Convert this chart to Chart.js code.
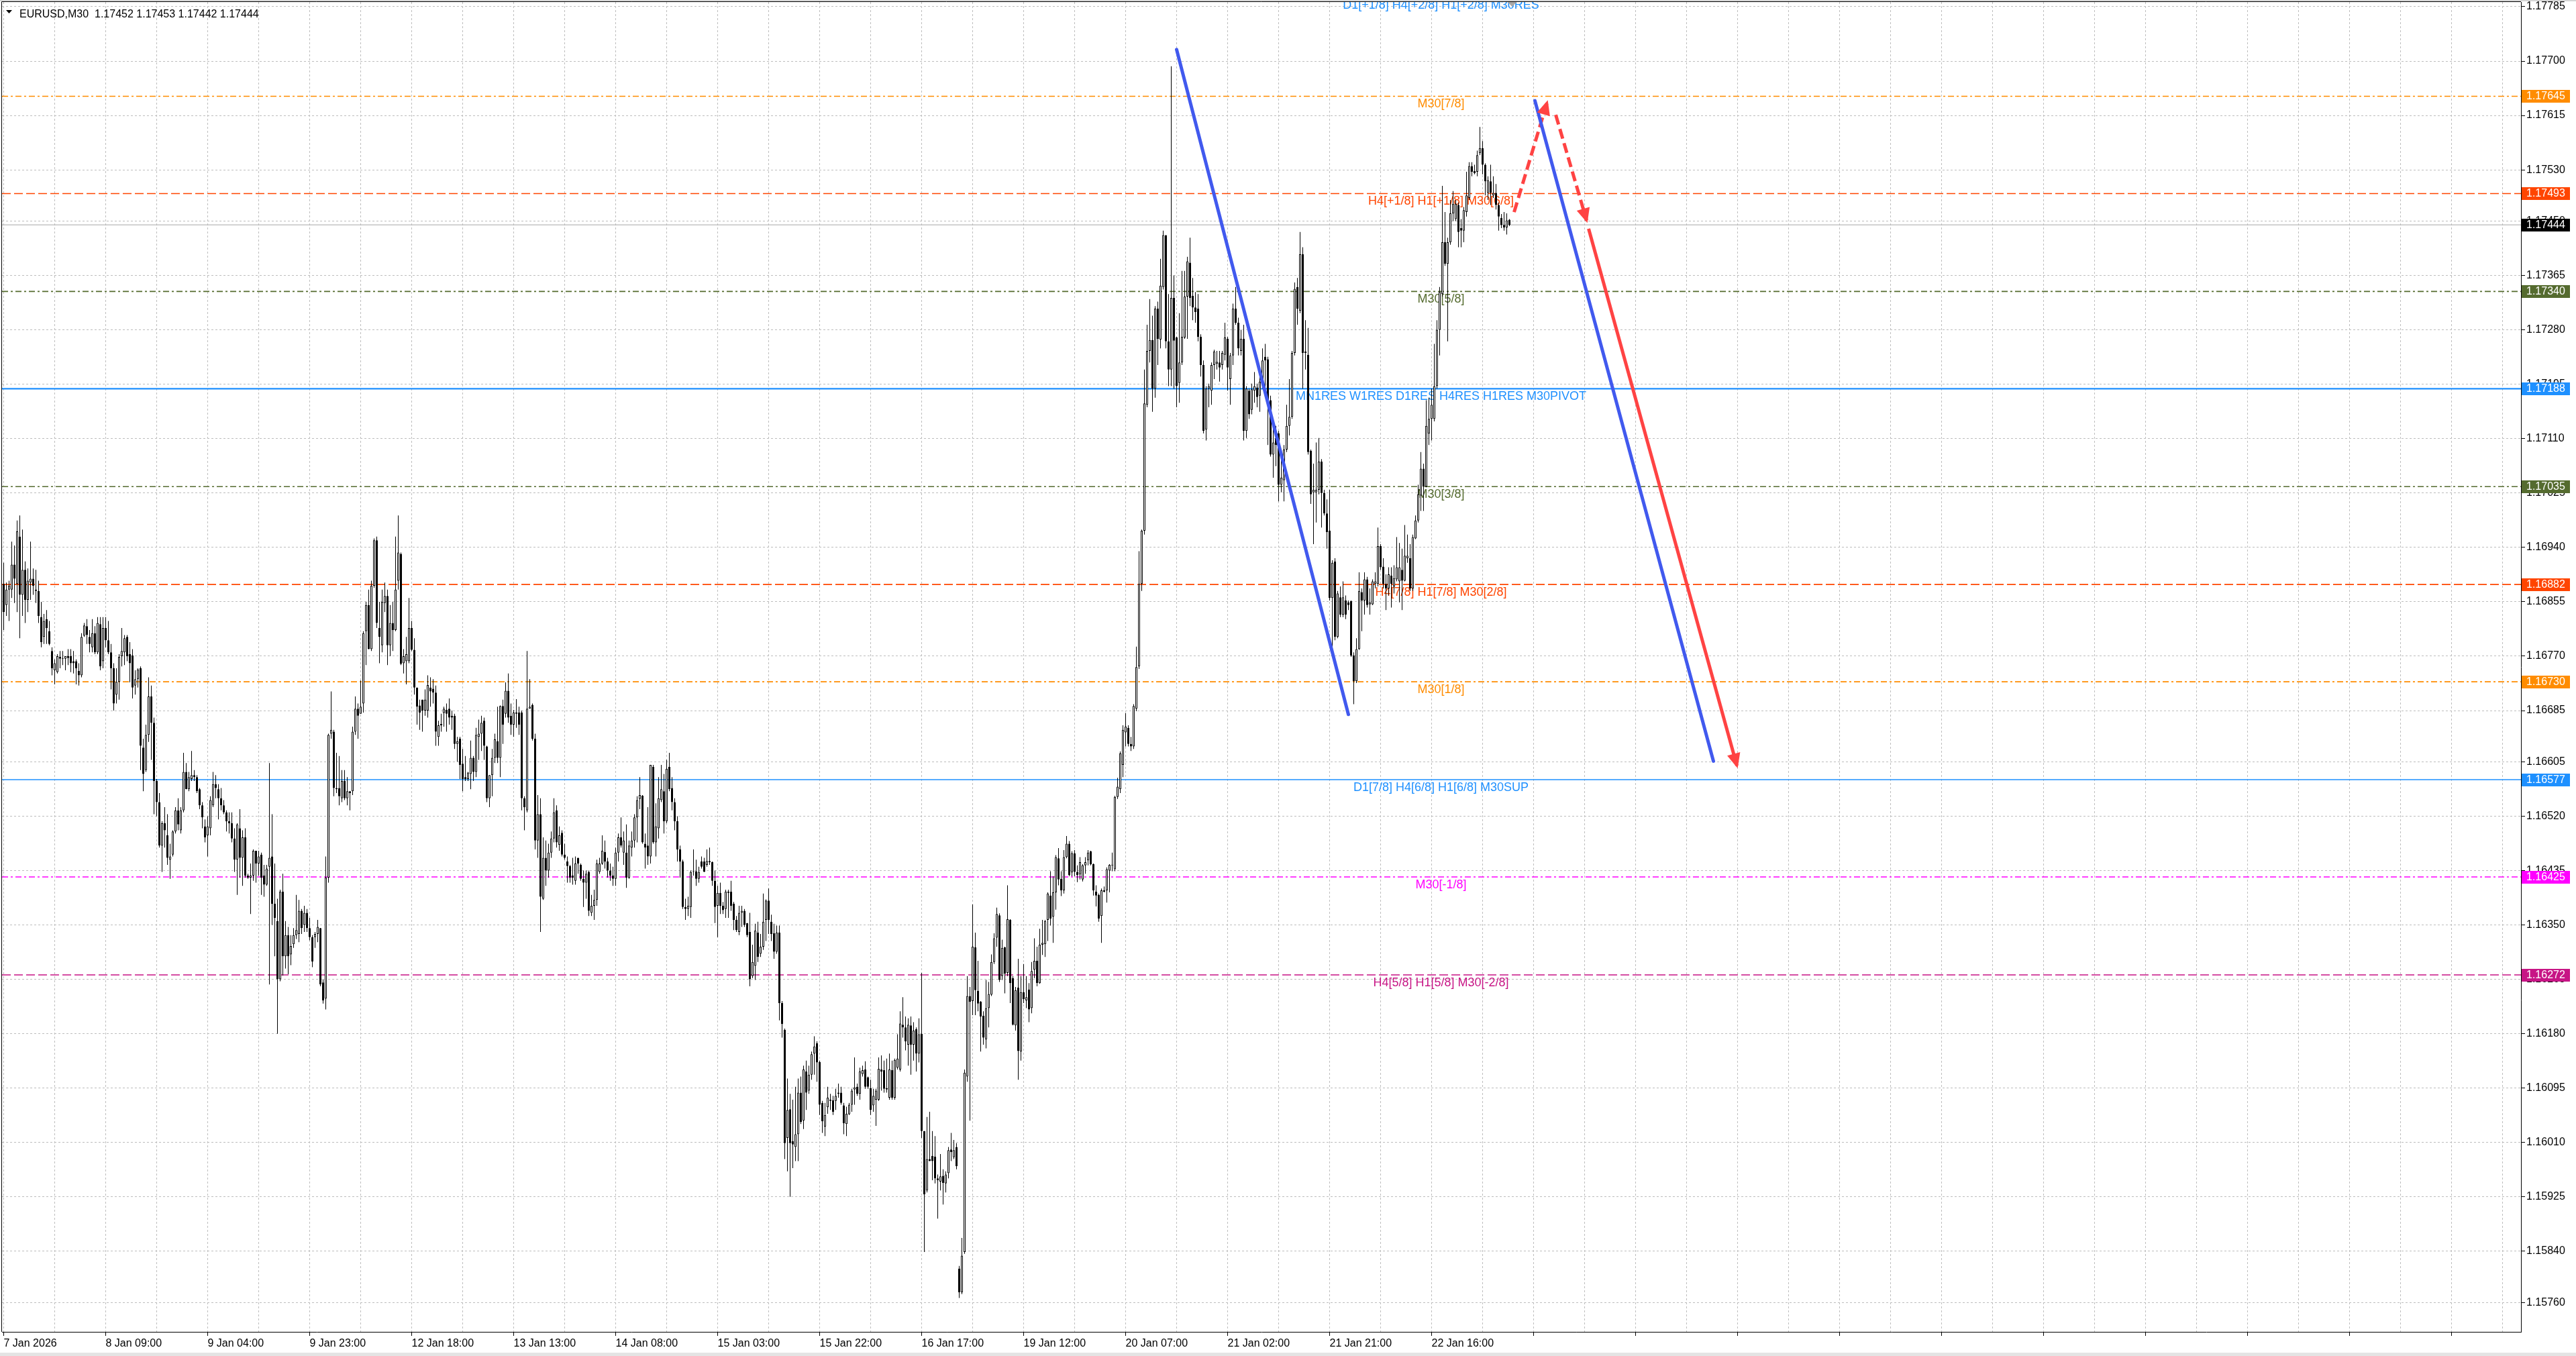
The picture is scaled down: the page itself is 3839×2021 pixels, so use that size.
<!DOCTYPE html>
<html>
<head>
<meta charset="utf-8">
<title>EURUSD,M30</title>
<script src="https://cdn.jsdelivr.net/npm/chart.js@4.4.1/dist/chart.umd.min.js"></script>
<style>
  html, body { margin: 0; padding: 0; background: #ffffff; overflow: hidden; }
  canvas { display: block; }
</style>
</head>
<body>
<canvas id="priceChart" width="3839" height="2021"></canvas>
<script>
// EURUSD M30 bars, oldest first
const opens = [
1.16883,1.16850,1.16874,1.16874,1.16913,1.16883,1.16957,1.16866,1.16905,1.16858,
1.16885,1.16891,1.16874,1.16872,1.16831,1.16800,1.16828,1.16809,1.16778,1.16748,
1.16745,1.16769,1.16766,1.16766,1.16770,1.16770,1.16762,1.16762,1.16747,1.16740,
1.16802,1.16817,1.16800,1.16784,1.16806,1.16776,1.16820,1.16762,1.16814,1.16795,
1.16776,1.16751,1.16710,1.16730,1.16770,1.16776,1.16800,1.16773,1.16771,1.16724,
1.16734,1.16751,1.16627,1.16592,1.16647,1.16707,1.16666,1.16575,1.16542,1.16474,
1.16509,1.16490,1.16452,1.16460,1.16496,1.16529,1.16498,1.16529,1.16589,1.16562,
1.16578,1.16584,1.16581,1.16562,1.16537,1.16504,1.16490,1.16501,1.16537,1.16570,
1.16562,1.16548,1.16537,1.16526,1.16512,1.16509,1.16485,1.16452,1.16501,1.16455,
1.16487,1.16427,1.16424,1.16427,1.16466,1.16446,1.16460,1.16427,1.16413,1.16441,
1.16457,1.16383,1.16356,1.16265,1.16402,1.16301,1.16334,1.16304,1.16320,1.16334,
1.16336,1.16372,1.16350,1.16369,1.16345,1.16331,1.16331,1.16336,1.16345,1.16260,
1.16235,1.16424,1.16649,1.16652,1.16564,1.16564,1.16548,1.16575,1.16548,1.16559,
1.16559,1.16652,1.16688,1.16680,1.16696,1.16809,1.16850,1.16781,1.16880,
1.16951,1.16814,1.16787,1.16853,1.16864,1.16787,1.16822,1.16811,1.16888,1.16930,
1.16759,1.16762,1.16762,1.16814,1.16780,1.16721,1.16693,1.16702,1.16685,1.16685,
1.16721,1.16719,1.16713,1.16644,1.16662,1.16681,1.16686,1.16688,1.16677,1.16677,
1.16633,1.16641,1.16602,1.16581,1.16578,1.16586,1.16611,1.16589,1.16644,1.16649,
1.16669,1.16629,1.16548,1.16584,1.16611,1.16637,1.16611,1.16692,1.16680,1.16716,
1.16677,1.16663,1.16680,1.16682,1.16682,1.16548,1.16529,1.16688,1.16694,1.16641,
1.16482,1.16523,1.16391,1.16455,1.16435,1.16463,1.16485,1.16529,1.16475,1.16494,
1.16460,1.16449,1.16442,1.16427,1.16419,1.16455,1.16444,1.16422,1.16416,1.16433,
1.16369,1.16380,1.16389,1.16433,1.16446,1.16464,1.16449,1.16435,1.16427,1.16422,
1.16463,1.16487,1.16463,1.16463,1.16424,1.16471,1.16482,1.16518,1.16547,1.16552,
1.16477,1.16474,1.16457,1.16597,1.16479,1.16501,1.16545,1.16559,1.16512,1.16597,
1.16564,1.16542,1.16512,1.16468,1.16449,1.16378,1.16375,1.16378,1.16433,1.16434,
1.16422,1.16449,1.16449,1.16444,1.16450,1.16448,1.16419,1.16380,1.16400,1.16380,
1.16375,1.16400,1.16402,1.16383,1.16358,1.16339,1.16369,1.16372,1.16353,1.16339,
1.16270,1.16286,1.16338,1.16305,1.16316,1.16358,1.16388,1.16355,1.16337,1.16308,
1.16338,1.16228,1.16186,1.16017,1.16062,1.16012,1.16003,1.16023,1.16088,1.16044,
1.16121,1.16091,1.16116,1.16149,1.16165,1.16136,1.16072,1.16035,1.16065,1.16077,
1.16076,1.16075,1.16086,1.16088,1.16068,1.16039,1.16054,1.16069,1.16093,1.16097,
1.16086,1.16117,1.16124,1.16112,1.16095,1.16068,1.16077,1.16077,1.16124,1.16123,
1.16093,1.16080,1.16123,1.16080,1.16127,1.16124,1.16194,1.16190,1.16163,1.16193,
1.16163,1.16187,1.16149,1.16180,1.16028,1.15935,1.15984,1.15989,1.15988,1.15954,
1.15949,1.15958,1.15946,1.15962,1.15999,1.15987,1.16003,1.15813,1.15776,1.15839,
1.16113,1.16239,1.16231,1.16315,1.16247,1.16230,1.16208,1.16171,1.16220,1.16241,
1.16292,1.16330,1.16365,1.16270,1.16315,1.16275,1.16358,1.16267,1.16193,1.16252,
1.16152,1.16245,1.16232,1.16249,1.16220,1.16280,1.16294,1.16259,1.16319,1.16320,
1.16358,1.16396,1.16363,1.16401,1.16454,1.16422,1.16404,1.16456,1.16477,1.16432,
1.16462,1.16433,1.16429,1.16421,1.16443,1.16451,1.16465,1.16445,1.16402,1.16397,
1.16364,1.16402,1.16404,1.16435,1.16443,1.16437,1.16550,1.16562,1.16600,1.16651,
1.16658,1.16633,1.16629,1.16688,1.16754,1.16883,1.16966,1.17163,1.17247,1.17264,
1.17188,1.17313,1.17265,1.17347,1.17428,1.17262,1.17218,1.17330,1.17268,1.17197,
1.17229,1.17268,1.17332,1.17385,1.17333,1.17315,1.17313,1.17269,1.17225,1.17124,
1.17188,1.17185,1.17225,1.17227,1.17229,1.17225,1.17241,1.17266,1.17203,1.17240,
1.17313,1.17291,1.17247,1.17266,1.17122,1.17185,1.17155,1.17185,1.17190,1.17177,
1.17199,1.17238,1.17234,1.17170,1.17085,1.17111,1.17118,1.17038,1.17045,1.17093,
1.17130,1.17144,1.17244,1.17347,1.17310,1.17398,1.17244,1.17241,1.17091,1.17026,
1.17026,1.17030,1.17074,1.17025,1.16993,1.16966,1.16861,1.16918,1.16800,1.16862,
1.16835,1.16857,1.16854,1.16856,1.16771,1.16731,1.16781,1.16870,1.16857,1.16890,
1.16851,1.16851,1.16883,1.16883,1.16942,1.16910,1.16883,1.16876,1.16896,1.16879,
1.16890,1.16887,1.16905,1.16888,1.16923,1.16923,1.16876,1.16954,1.16982,1.17021,
1.17063,1.17035,1.17118,1.17141,1.17141,1.17192,1.17280,1.17336,1.17417,1.17383,
1.17417,1.17462,1.17453,1.17475,1.17439,1.17435,1.17464,1.17486,1.17536,1.17528,
1.17527,1.17556,1.17564,1.17538,1.17494,1.17512,1.17490,1.17494,1.17475,1.17455,
1.17444,1.17440,1.17452
];
const highs = [
1.16916,1.16885,1.16888,1.16949,1.16943,1.16982,1.16990,1.16968,1.16918,1.16907,
1.16949,1.16907,1.16905,1.16888,1.16855,1.16836,1.16842,1.16825,1.16784,1.16765,
1.16773,1.16778,1.16778,1.16770,1.16781,1.16781,1.16778,1.16765,1.16759,1.16806,
1.16822,1.16828,1.16811,1.16828,1.16817,1.16831,1.16831,1.16831,1.16831,1.16825,
1.16789,1.16759,1.16751,1.16773,1.16814,1.16803,1.16803,1.16792,1.16781,1.16748,
1.16751,1.16754,1.16641,1.16663,1.16737,1.16724,1.16674,1.16578,1.16556,1.16512,
1.16534,1.16523,1.16477,1.16498,1.16534,1.16548,1.16534,1.16619,1.16603,1.16589,
1.16622,1.16592,1.16584,1.16564,1.16542,1.16515,1.16520,1.16551,1.16589,1.16584,
1.16570,1.16564,1.16545,1.16529,1.16526,1.16526,1.16501,1.16509,1.16531,1.16498,
1.16501,1.16430,1.16446,1.16468,1.16466,1.16466,1.16463,1.16444,1.16444,1.16603,
1.16523,1.16446,1.16391,1.16405,1.16430,1.16356,1.16347,1.16334,1.16345,1.16397,
1.16389,1.16375,1.16380,1.16375,1.16361,1.16334,1.16339,1.16358,1.16345,1.16265,
1.16457,1.16649,1.16715,1.16655,1.16619,1.16614,1.16592,1.16592,1.16581,1.16559,
1.16660,1.16707,1.16696,1.16732,1.16809,1.16855,1.16874,1.16888,1.16954,
1.16957,1.16855,1.16874,1.16885,1.16874,1.16850,1.16855,1.16957,1.16990,1.16932,
1.16781,1.16800,1.16861,1.16825,1.16798,1.16721,1.16702,1.16702,1.16718,1.16740,
1.16737,1.16734,1.16724,1.16669,1.16680,1.16691,1.16696,1.16704,1.16685,1.16680,
1.16644,1.16644,1.16625,1.16614,1.16589,1.16638,1.16614,1.16658,1.16671,1.16677,
1.16674,1.16630,1.16584,1.16625,1.16649,1.16691,1.16693,1.16702,1.16729,1.16743,
1.16696,1.16686,1.16703,1.16691,1.16685,1.16551,1.16778,1.16734,1.16696,1.16649,
1.16553,1.16548,1.16487,1.16482,1.16477,1.16496,1.16548,1.16537,1.16504,1.16498,
1.16477,1.16457,1.16444,1.16455,1.16457,1.16455,1.16446,1.16435,1.16435,1.16435,
1.16397,1.16405,1.16452,1.16455,1.16490,1.16482,1.16455,1.16446,1.16441,1.16471,
1.16493,1.16518,1.16496,1.16507,1.16482,1.16496,1.16523,1.16551,1.16581,1.16553,
1.16493,1.16534,1.16600,1.16600,1.16540,1.16581,1.16600,1.16586,1.16608,1.16619,
1.16581,1.16548,1.16520,1.16474,1.16452,1.16391,1.16394,1.16435,1.16468,1.16452,
1.16441,1.16457,1.16455,1.16468,1.16471,1.16449,1.16435,1.16411,1.16416,1.16386,
1.16405,1.16405,1.16419,1.16386,1.16364,1.16380,1.16380,1.16375,1.16353,1.16369,
1.16319,1.16352,1.16355,1.16336,1.16399,1.16390,1.16407,1.16366,1.16352,1.16349,
1.16349,1.16231,1.16188,1.16110,1.16086,1.16077,1.16097,1.16110,1.16113,1.16130,
1.16138,1.16130,1.16152,1.16176,1.16168,1.16138,1.16075,1.16072,1.16097,1.16086,
1.16083,1.16094,1.16102,1.16097,1.16072,1.16066,1.16072,1.16094,1.16143,1.16102,
1.16127,1.16130,1.16137,1.16113,1.16108,1.16094,1.16094,1.16143,1.16146,1.16138,
1.16141,1.16149,1.16138,1.16141,1.16179,1.16215,1.16237,1.16207,1.16204,1.16207,
1.16198,1.16190,1.16204,1.16275,1.16028,1.16050,1.16058,1.16028,1.16020,1.15960,
1.15992,1.15968,1.15965,1.16003,1.16025,1.16014,1.16009,1.15817,1.15861,1.16124,
1.16270,1.16253,1.16382,1.16338,1.16294,1.16231,1.16215,1.16264,1.16261,1.16304,
1.16337,1.16377,1.16368,1.16327,1.16316,1.16412,1.16359,1.16270,1.16253,1.16297,
1.16270,1.16289,1.16270,1.16259,1.16292,1.16329,1.16316,1.16344,1.16358,1.16358,
1.16401,1.16434,1.16426,1.16459,1.16470,1.16434,1.16467,1.16489,1.16481,1.16465,
1.16467,1.16443,1.16456,1.16445,1.16456,1.16467,1.16466,1.16446,1.16412,1.16399,
1.16407,1.16410,1.16440,1.16445,1.16463,1.16552,1.16580,1.16621,1.16662,1.16681,
1.16662,1.16644,1.16695,1.16785,1.16934,1.16968,1.17218,1.17288,1.17328,1.17302,
1.17317,1.17324,1.17391,1.17435,1.17428,1.17336,1.17692,1.17365,1.17269,1.17306,
1.17372,1.17372,1.17394,1.17424,1.17361,1.17339,1.17336,1.17273,1.17232,1.17192,
1.17196,1.17229,1.17249,1.17247,1.17247,1.17247,1.17291,1.17269,1.17244,1.17321,
1.17347,1.17299,1.17280,1.17288,1.17192,1.17188,1.17196,1.17214,1.17196,1.17218,
1.17251,1.17258,1.17238,1.17177,1.17137,1.17130,1.17122,1.17085,1.17100,1.17163,
1.17203,1.17247,1.17354,1.17361,1.17433,1.17409,1.17295,1.17283,1.17093,1.17071,
1.17104,1.17111,1.17078,1.17030,1.17015,1.17030,1.16920,1.16923,1.16872,1.16879,
1.16887,1.16865,1.16857,1.16857,1.16776,1.16798,1.16901,1.16876,1.16901,1.16894,
1.16876,1.16890,1.16901,1.16971,1.16945,1.16923,1.16898,1.16909,1.16909,1.16912,
1.16956,1.16947,1.16938,1.16975,1.16960,1.16945,1.16960,1.16990,1.17038,1.17089,
1.17071,1.17170,1.17174,1.17188,1.17258,1.17295,1.17347,1.17505,1.17464,1.17424,
1.17483,1.17497,1.17483,1.17479,1.17453,1.17472,1.17527,1.17542,1.17542,1.17538,
1.17560,1.17597,1.17575,1.17540,1.17520,1.17538,1.17520,1.17508,1.17479,1.17461,
1.17464,1.17462,1.17453
];
const lows = [
1.16811,1.16833,1.16825,1.16861,1.16853,1.16839,1.16798,1.16833,1.16822,1.16839,
1.16858,1.16866,1.16853,1.16822,1.16784,1.16789,1.16789,1.16787,1.16740,1.16726,
1.16743,1.16751,1.16756,1.16748,1.16756,1.16745,1.16743,1.16726,1.16724,1.16737,
1.16800,1.16789,1.16776,1.16776,1.16773,1.16773,1.16748,1.16751,1.16784,1.16773,
1.16718,1.16685,1.16696,1.16702,1.16754,1.16756,1.16762,1.16729,1.16704,1.16710,
1.16721,1.16592,1.16559,1.16589,1.16636,1.16608,1.16523,1.16520,1.16471,1.16433,
1.16471,1.16444,1.16422,1.16457,1.16493,1.16498,1.16493,1.16526,1.16562,1.16559,
1.16575,1.16575,1.16556,1.16531,1.16501,1.16479,1.16457,1.16490,1.16534,1.16548,
1.16515,1.16529,1.16523,1.16496,1.16493,1.16479,1.16433,1.16397,1.16424,1.16411,
1.16424,1.16422,1.16367,1.16419,1.16416,1.16427,1.16397,1.16394,1.16411,1.16257,
1.16350,1.16301,1.16180,1.16262,1.16271,1.16282,1.16273,1.16287,1.16314,1.16328,
1.16323,1.16336,1.16339,1.16339,1.16326,1.16284,1.16314,1.16323,1.16254,1.16227,
1.16218,1.16416,1.16641,1.16551,1.16556,1.16537,1.16542,1.16545,1.16537,1.16529,
1.16553,1.16647,1.16641,1.16680,1.16682,1.16756,1.16781,1.16778,1.16877,
1.16814,1.16759,1.16776,1.16839,1.16756,1.16770,1.16778,1.16809,1.16874,1.16756,
1.16743,1.16726,1.16759,1.16778,1.16710,1.16663,1.16655,1.16652,1.16677,1.16674,
1.16691,1.16696,1.16630,1.16630,1.16652,1.16660,1.16652,1.16663,1.16655,1.16625,
1.16605,1.16578,1.16559,1.16575,1.16575,1.16562,1.16575,1.16581,1.16608,1.16622,
1.16608,1.16542,1.16534,1.16551,1.16603,1.16603,1.16581,1.16633,1.16674,1.16666,
1.16647,1.16644,1.16658,1.16647,1.16529,1.16498,1.16526,1.16688,1.16638,1.16468,
1.16455,1.16339,1.16389,1.16411,1.16424,1.16455,1.16479,1.16471,1.16466,1.16457,
1.16452,1.16416,1.16416,1.16413,1.16413,1.16430,1.16419,1.16378,1.16391,1.16364,
1.16364,1.16358,1.16380,1.16430,1.16444,1.16438,1.16424,1.16419,1.16411,1.16411,
1.16449,1.16471,1.16444,1.16408,1.16422,1.16457,1.16471,1.16479,1.16531,1.16477,
1.16438,1.16444,1.16446,1.16477,1.16457,1.16485,1.16542,1.16493,1.16509,1.16559,
1.16529,1.16498,1.16449,1.16424,1.16375,1.16358,1.16364,1.16361,1.16427,1.16411,
1.16416,1.16438,1.16433,1.16441,1.16444,1.16411,1.16353,1.16331,1.16367,1.16367,
1.16361,1.16361,1.16372,1.16342,1.16339,1.16334,1.16347,1.16347,1.16331,1.16254,
1.16267,1.16264,1.16292,1.16300,1.16311,1.16325,1.16336,1.16325,1.16297,1.16305,
1.16201,1.16174,1.15984,1.15965,1.15925,1.15970,1.15981,1.15981,1.16039,1.16031,
1.16061,1.16086,1.16108,1.16116,1.16105,1.16053,1.16025,1.16020,1.16055,1.16061,
1.16053,1.16061,1.16080,1.16069,1.16023,1.16020,1.16053,1.16058,1.16069,1.16083,
1.16077,1.16113,1.16094,1.16094,1.16053,1.16058,1.16036,1.16075,1.16091,1.16088,
1.16088,1.16077,1.16077,1.16077,1.16124,1.16121,1.16174,1.16154,1.16130,1.16116,
1.16138,1.16121,1.16135,1.16017,1.15839,1.15932,1.15981,1.15951,1.15946,1.15891,
1.15935,1.15913,1.15932,1.15954,1.15981,1.15984,1.15968,1.15767,1.15773,1.15836,
1.16105,1.16044,1.16209,1.16209,1.16215,1.16152,1.16163,1.16157,1.16190,1.16239,
1.16289,1.16316,1.16261,1.16264,1.16243,1.16270,1.16228,1.16193,1.16185,1.16108,
1.16138,1.16228,1.16220,1.16198,1.16212,1.16267,1.16254,1.16258,1.16303,1.16300,
1.16325,1.16349,1.16322,1.16374,1.16412,1.16395,1.16399,1.16454,1.16426,1.16426,
1.16426,1.16417,1.16421,1.16418,1.16430,1.16443,1.16443,1.16396,1.16379,1.16355,
1.16322,1.16401,1.16385,1.16401,1.16434,1.16434,1.16547,1.16556,1.16581,1.16629,
1.16629,1.16622,1.16625,1.16684,1.16750,1.16872,1.16960,1.17159,1.17229,1.17152,
1.17174,1.17225,1.17251,1.17343,1.17251,1.17192,1.17192,1.17188,1.17159,1.17166,
1.17225,1.17266,1.17266,1.17317,1.17295,1.17291,1.17262,1.17207,1.17118,1.17107,
1.17159,1.17163,1.17203,1.17218,1.17199,1.17218,1.17232,1.17185,1.17163,1.17225,
1.17288,1.17240,1.17240,1.17107,1.17111,1.17141,1.17148,1.17166,1.17159,1.17152,
1.17188,1.17174,1.17100,1.17082,1.17049,1.17067,1.17012,1.17026,1.17012,1.17089,
1.17115,1.17141,1.17240,1.17288,1.17306,1.17188,1.17218,1.17085,1.17008,1.16945,
1.16979,1.17023,1.16971,1.16990,1.16938,1.16857,1.16772,1.16795,1.16798,1.16831,
1.16831,1.16828,1.16842,1.16769,1.16695,1.16728,1.16780,1.16809,1.16835,1.16846,
1.16835,1.16850,1.16876,1.16879,1.16905,1.16876,1.16842,1.16865,1.16846,1.16868,
1.16887,1.16854,1.16842,1.16887,1.16916,1.16872,1.16872,1.16953,1.16979,1.16997,
1.16997,1.17034,1.17100,1.17107,1.17137,1.17188,1.17240,1.17332,1.17380,1.17262,
1.17413,1.17450,1.17450,1.17409,1.17409,1.17417,1.17457,1.17483,1.17520,1.17523,
1.17520,1.17553,1.17523,1.17490,1.17483,1.17475,1.17486,1.17468,1.17435,1.17439,
1.17435,1.17429,1.17442
];
const closes = [
1.16839,1.16874,1.16880,1.16913,1.16891,1.16965,1.16866,1.16905,1.16858,1.16888,
1.16891,1.16880,1.16872,1.16833,1.16792,1.16825,1.16814,1.16789,1.16751,1.16759,
1.16770,1.16766,1.16767,1.16770,1.16767,1.16759,1.16759,1.16751,1.16740,1.16800,
1.16818,1.16803,1.16789,1.16806,1.16776,1.16822,1.16754,1.16814,1.16795,1.16776,
1.16751,1.16696,1.16730,1.16769,1.16778,1.16798,1.16770,1.16759,1.16721,1.16734,
1.16749,1.16630,1.16586,1.16647,1.16707,1.16666,1.16575,1.16542,1.16474,1.16509,
1.16498,1.16455,1.16457,1.16496,1.16529,1.16507,1.16529,1.16589,1.16562,1.16581,
1.16584,1.16581,1.16559,1.16537,1.16518,1.16487,1.16504,1.16545,1.16570,1.16564,
1.16548,1.16537,1.16526,1.16512,1.16509,1.16485,1.16452,1.16507,1.16455,1.16487,
1.16427,1.16424,1.16427,1.16466,1.16446,1.16457,1.16424,1.16413,1.16438,1.16455,
1.16383,1.16361,1.16265,1.16402,1.16301,1.16334,1.16301,1.16317,1.16334,1.16342,
1.16372,1.16345,1.16369,1.16345,1.16331,1.16293,1.16336,1.16347,1.16257,1.16232,
1.16424,1.16647,1.16655,1.16564,1.16562,1.16551,1.16575,1.16548,1.16559,1.16556,
1.16652,1.16688,1.16677,1.16691,1.16806,1.16850,1.16781,1.16880,1.16951,
1.16822,1.16800,1.16855,1.16864,1.16787,1.16822,1.16811,1.16874,1.16932,1.16758,
1.16770,1.16773,1.16814,1.16780,1.16721,1.16691,1.16682,1.16685,1.16702,1.16725,
1.16715,1.16713,1.16652,1.16662,1.16664,1.16688,1.16680,1.16674,1.16674,1.16633,
1.16637,1.16600,1.16578,1.16578,1.16588,1.16611,1.16589,1.16647,1.16649,1.16666,
1.16630,1.16548,1.16584,1.16611,1.16640,1.16611,1.16692,1.16663,1.16716,1.16674,
1.16663,1.16682,1.16682,1.16663,1.16548,1.16534,1.16688,1.16691,1.16641,1.16482,
1.16523,1.16394,1.16455,1.16435,1.16463,1.16485,1.16526,1.16479,1.16490,1.16460,
1.16455,1.16442,1.16424,1.16424,1.16446,1.16446,1.16422,1.16416,1.16430,1.16372,
1.16380,1.16389,1.16446,1.16446,1.16466,1.16449,1.16435,1.16427,1.16422,1.16463,
1.16487,1.16474,1.16482,1.16424,1.16474,1.16482,1.16518,1.16545,1.16553,1.16479,
1.16471,1.16457,1.16600,1.16479,1.16504,1.16548,1.16562,1.16512,1.16594,1.16562,
1.16542,1.16512,1.16468,1.16449,1.16378,1.16375,1.16380,1.16433,1.16434,1.16422,
1.16433,1.16441,1.16433,1.16450,1.16448,1.16419,1.16378,1.16400,1.16380,1.16373,
1.16402,1.16402,1.16380,1.16358,1.16342,1.16369,1.16372,1.16350,1.16334,1.16265,
1.16292,1.16341,1.16300,1.16316,1.16355,1.16388,1.16358,1.16336,1.16308,1.16338,
1.16228,1.16195,1.16009,1.16061,1.16009,1.16007,1.16023,1.16088,1.16042,1.16124,
1.16088,1.16116,1.16148,1.16160,1.16135,1.16069,1.16043,1.16053,1.16080,1.16075,
1.16058,1.16083,1.16088,1.16072,1.16040,1.16055,1.16069,1.16091,1.16096,1.16086,
1.16121,1.16123,1.16097,1.16097,1.16061,1.16083,1.16091,1.16125,1.16121,1.16094,
1.16095,1.16124,1.16080,1.16139,1.16141,1.16196,1.16190,1.16168,1.16194,1.16163,
1.16185,1.16149,1.16179,1.16028,1.15929,1.15984,1.15981,1.15981,1.15954,1.15951,
1.15957,1.15947,1.15960,1.15998,1.15995,1.15998,1.15973,1.15776,1.15833,1.16119,
1.16239,1.16230,1.16316,1.16248,1.16227,1.16207,1.16174,1.16220,1.16242,1.16292,
1.16329,1.16367,1.16264,1.16314,1.16274,1.16359,1.16259,1.16194,1.16248,1.16153,
1.16245,1.16234,1.16237,1.16218,1.16278,1.16294,1.16259,1.16319,1.16322,1.16356,
1.16399,1.16360,1.16401,1.16456,1.16421,1.16404,1.16456,1.16477,1.16428,1.16462,
1.16433,1.16428,1.16448,1.16443,1.16448,1.16463,1.16445,1.16404,1.16396,1.16360,
1.16404,1.16404,1.16437,1.16444,1.16444,1.16550,1.16566,1.16618,1.16655,1.16660,
1.16633,1.16629,1.16692,1.16753,1.16883,1.16966,1.17165,1.17247,1.17264,1.17188,
1.17313,1.17266,1.17349,1.17428,1.17262,1.17218,1.17330,1.17263,1.17192,1.17229,
1.17269,1.17332,1.17387,1.17330,1.17315,1.17308,1.17269,1.17225,1.17122,1.17188,
1.17192,1.17225,1.17246,1.17230,1.17221,1.17244,1.17268,1.17221,1.17240,1.17313,
1.17291,1.17251,1.17266,1.17122,1.17188,1.17148,1.17187,1.17192,1.17175,1.17199,
1.17232,1.17232,1.17166,1.17085,1.17104,1.17100,1.17038,1.17049,1.17093,1.17130,
1.17144,1.17244,1.17344,1.17313,1.17398,1.17244,1.17246,1.17089,1.17023,1.17030,
1.17030,1.17074,1.17025,1.16993,1.16964,1.16861,1.16916,1.16800,1.16868,1.16835,
1.16862,1.16835,1.16850,1.16771,1.16731,1.16781,1.16872,1.16857,1.16890,1.16850,
1.16854,1.16887,1.16887,1.16942,1.16909,1.16883,1.16876,1.16898,1.16883,1.16892,
1.16909,1.16909,1.16888,1.16927,1.16927,1.16876,1.16956,1.16982,1.17023,1.17063,
1.17035,1.17130,1.17141,1.17163,1.17192,1.17280,1.17339,1.17417,1.17383,1.17417,
1.17462,1.17477,1.17477,1.17433,1.17435,1.17467,1.17490,1.17536,1.17527,1.17525,
1.17553,1.17564,1.17538,1.17512,1.17514,1.17494,1.17494,1.17475,1.17457,1.17444,
1.17440,1.17451,1.17444
];

const symbolName = 'EURUSD,M30';

// time axis: a label every 38 bars, a grid line every 19
const timeLabels = ['7 Jan 2026', '8 Jan 09:00', '9 Jan 04:00', '9 Jan 23:00', '12 Jan 18:00',
  '13 Jan 13:00', '14 Jan 08:00', '15 Jan 03:00', '15 Jan 22:00', '16 Jan 17:00',
  '19 Jan 12:00', '20 Jan 07:00', '21 Jan 02:00', '21 Jan 21:00', '22 Jan 16:00'];
const labelStep = 38;
const gridStep = 19;

const priceTicks = [1.17785, 1.17700, 1.17615, 1.17530, 1.17450, 1.17365, 1.17280, 1.17195,
  1.17110, 1.17025, 1.16940, 1.16855, 1.16770, 1.16685, 1.16605, 1.16520, 1.16435, 1.16350,
  1.16265, 1.16180, 1.16095, 1.16010, 1.15925, 1.15840, 1.15760];

// murrey / pivot levels
const levelPrices = [1.17800, 1.17645, 1.17493, 1.17340, 1.17188, 1.17035, 1.16882, 1.16730, 1.16577, 1.16425, 1.16272];
const levelNames = ['D1[+1/8] H4[+2/8] H1[+2/8] M30RES', 'M30[7/8]', 'H4[+1/8] H1[+1/8] M30[6/8]', 'M30[5/8]',
  'MN1RES W1RES D1RES H4RES H1RES M30PIVOT', 'M30[3/8]', 'H4[7/8] H1[7/8] M30[2/8]', 'M30[1/8]',
  'D1[7/8] H4[6/8] H1[6/8] M30SUP', 'M30[-1/8]', 'H4[5/8] H1[5/8] M30[-2/8]'];
const levelColors = ['#1e90ff', '#ff8c00', '#ff4500', '#556b2f', '#1e90ff', '#556b2f', '#ff4500', '#ff8c00', '#1e90ff', '#ff00ff', '#c71585'];
const levelStyles = ['solid', 'dashdot', 'dash', 'dashdot', 'solid', 'dashdot', 'dash', 'dashdot', 'solid', 'dashdot', 'dash'];
const levelLabelBar = 535.5;

// drawn trend lines, [bar, price] anchors
const trendStart = [[437, 1.17718], [570.5, 1.17638], [562.75, 1.17464], [578.25, 1.17616], [590.5, 1.17438]];
const trendEnd = [[501, 1.16679], [637, 1.16606], [575, 1.17635], [589.75, 1.17451], [645.75, 1.16599]];
const trendColors = ['#4159ee', '#4159ee', '#ff4343', '#ff4343', '#ff4343'];
const trendDashed = [false, false, true, true, false];
const trendArrow = [false, false, true, true, true];

const xMin = -0.625, xMax = 937.875;
const yMin = 1.157141, yMax = 1.177923;

const dashPatterns = { solid: [], dash: [13, 5], dashdot: [9, 4, 3, 4] };
const fontFamily = '"Liberation Sans", Arial, sans-serif';

Chart.defaults.font.family = fontFamily;

const bars = closes.map((c, i) => i);
const lastBar = closes.length - 1;
const lastPrice = closes[lastBar];

const datasets = [];

// trend lines on top
trendStart.forEach((s, i) => {
    datasets.push({
        type: 'line',
        order: 0,
        data: [{ x: s[0], y: s[1] }, { x: trendEnd[i][0], y: trendEnd[i][1] }],
        borderColor: trendColors[i],
        borderWidth: 5,
        borderDash: trendDashed[i] ? [15, 7] : [],
        borderCapStyle: trendArrow[i] ? 'butt' : 'round',
        pointRadius: 0,
        fill: false
    });
});

// candle bodies
datasets.push({
    type: 'bar',
    order: 1,
    data: bars.map(i => ({ x: i, y: [opens[i], closes[i]] })),
    backgroundColor: bars.map(i => closes[i] > opens[i] ? '#ffffff' : '#000000'),
    borderColor: '#000000',
    borderWidth: 1,
    borderSkipped: false,
    barThickness: 3,
    minBarLength: 1,
    grouped: false,
    inflateAmount: 0
});

// wicks
datasets.push({
    type: 'bar',
    order: 2,
    data: bars.map(i => ({ x: i, y: [Math.min(lows[i], opens[i], closes[i]), Math.max(highs[i], opens[i], closes[i])] })),
    backgroundColor: '#000000',
    borderWidth: 0,
    barThickness: 1,
    minBarLength: 1,
    grouped: false,
    inflateAmount: 0
});

// bid line
datasets.push({
    type: 'line',
    order: 4,
    data: [{ x: xMin, y: lastPrice }, { x: xMax, y: lastPrice }],
    borderColor: '#b8b8b8',
    borderWidth: 1.2,
    pointRadius: 0
});

// level lines
levelPrices.forEach((p, i) => {
    datasets.push({
        type: 'line',
        order: 5,
        data: [{ x: xMin, y: p }, { x: xMax, y: p }],
        borderColor: levelColors[i],
        borderWidth: levelNames[i].indexOf('PIVOT') >= 0 ? 2.2 : 1.6,
        borderDash: dashPatterns[levelStyles[i]],
        pointRadius: 0
    });
});

const overlay = {
    id: 'overlay',
    beforeDatasetsDraw(chart) {
        const { ctx, chartArea: a, scales: { x, y } } = chart;
        ctx.save();
        ctx.beginPath();
        ctx.rect(a.left, a.top, a.right - a.left, a.bottom - a.top);
        ctx.clip();
        ctx.font = '18px ' + fontFamily;
        ctx.textAlign = 'center';
        ctx.textBaseline = 'alphabetic';
        const cx = x.getPixelForValue(levelLabelBar);
        levelPrices.forEach((p, i) => {
            ctx.fillStyle = levelColors[i];
            ctx.fillText(levelNames[i], cx, y.getPixelForValue(p) + 17);
        });
        ctx.restore();
    },
    afterDatasetsDraw(chart) {
        const { ctx, scales: { x, y } } = chart;
        ctx.save();
        trendStart.forEach((s, i) => {
            if (!trendArrow[i]) return;
            const x1 = x.getPixelForValue(s[0]), y1 = y.getPixelForValue(s[1]);
            const x2 = x.getPixelForValue(trendEnd[i][0]), y2 = y.getPixelForValue(trendEnd[i][1]);
            const ang = Math.atan2(y2 - y1, x2 - x1);
            const c = Math.cos(ang), sn = Math.sin(ang);
            const tx = x2 + c * 4, ty = y2 + sn * 4;
            const bx = tx - c * 22, by = ty - sn * 22;
            ctx.fillStyle = trendColors[i];
            ctx.beginPath();
            ctx.moveTo(tx, ty);
            ctx.lineTo(bx + sn * 10, by - c * 10);
            ctx.lineTo(bx - sn * 10, by + c * 10);
            ctx.closePath();
            ctx.fill();
        });
        ctx.restore();
    },
    afterDraw(chart) {
        const { ctx, chartArea: a, scales: { x, y } } = chart;
        ctx.save();

        // window edges
        ctx.fillStyle = '#d6d6d6';
        ctx.fillRect(0, 0, chart.width, 2);
        ctx.fillStyle = '#e4e4e4';
        ctx.fillRect(0, 2016, chart.width, chart.height - 2016);
        ctx.strokeStyle = '#000000';
        ctx.lineWidth = 1;
        ctx.beginPath();
        ctx.moveTo(2.5, 2.5);
        ctx.lineTo(a.right, 2.5);
        ctx.moveTo(2.5, 2.5);
        ctx.lineTo(2.5, a.bottom);
        ctx.stroke();

        // chart shift marker
        const sx = x.getPixelForValue(lastBar + 1);
        ctx.fillStyle = '#a8a8a8';
        ctx.beginPath();
        ctx.moveTo(sx - 7, 3);
        ctx.lineTo(sx + 7, 3);
        ctx.lineTo(sx, 10);
        ctx.closePath();
        ctx.fill();

        // price tags on the right scale
        ctx.font = '16px ' + fontFamily;
        ctx.textAlign = 'left';
        ctx.textBaseline = 'middle';
        const tag = (p, bg) => {
            if (p > y.max || p < y.min) return;
            const py = Math.round(y.getPixelForValue(p));
            ctx.fillStyle = bg;
            ctx.fillRect(a.right + 1, py - 9, 72, 19);
            ctx.fillStyle = '#ffffff';
            ctx.fillText(p.toFixed(5), a.right + 8, py + 1);
        };
        levelPrices.forEach((p, i) => tag(p, levelColors[i]));
        tag(lastPrice, '#000000');

        // header
        ctx.fillStyle = '#000000';
        ctx.beginPath();
        ctx.moveTo(9, 15);
        ctx.lineTo(18, 15);
        ctx.lineTo(13.5, 20);
        ctx.closePath();
        ctx.fill();
        ctx.textBaseline = 'alphabetic';
        const ohlc = [opens[lastBar], highs[lastBar], lows[lastBar], closes[lastBar]].map(v => v.toFixed(5)).join(' ');
        ctx.fillText(symbolName + '  ' + ohlc, 29, 26);
        ctx.restore();
    }
};

new Chart(document.getElementById('priceChart'), {
    type: 'bar',
    data: { datasets: datasets },
    options: {
        responsive: false,
        maintainAspectRatio: false,
        devicePixelRatio: 1,
        animation: false,
        events: [],
        layout: { padding: { left: 3, top: 3, right: 0, bottom: 0 } },
        plugins: {
            legend: { display: false },
            tooltip: { enabled: false }
        },
        scales: {
            x: {
                type: 'linear',
                position: 'bottom',
                min: xMin,
                max: xMax,
                bounds: 'data',
                offset: false,
                afterBuildTicks: s => {
                    const t = [];
                    for (let v = 0; v <= xMax; v += gridStep) t.push({ value: v });
                    s.ticks = t;
                },
                afterFit: s => { s.height = 36; s.paddingLeft = 0; s.paddingRight = 0; },
                ticks: {
                    autoSkip: false,
                    maxRotation: 0,
                    minRotation: 0,
                    align: 'start',
                    padding: 2,
                    color: '#000000',
                    font: { size: 16 },
                    callback: v => (v % labelStep === 0 && v / labelStep < timeLabels.length) ? timeLabels[v / labelStep] : ''
                },
                grid: {
                    offset: false,
                    color: '#bdbdbd',
                    lineWidth: 1,
                    tickLength: 6,
                    tickColor: c => (c.tick && c.tick.value % labelStep === 0) ? '#000000' : 'rgba(0,0,0,0)'
                },
                border: { display: true, color: '#000000', width: 1, dash: [3, 3] }
            },
            y: {
                type: 'linear',
                position: 'right',
                min: yMin,
                max: yMax,
                bounds: 'data',
                afterBuildTicks: s => { s.ticks = priceTicks.map(v => ({ value: v })); },
                afterFit: s => { s.width = 82; s.paddingTop = 0; s.paddingBottom = 0; },
                ticks: {
                    autoSkip: false,
                    padding: 2,
                    color: '#000000',
                    font: { size: 16 },
                    callback: v => v.toFixed(5)
                },
                grid: { color: '#bdbdbd', lineWidth: 1, tickLength: 6, tickColor: '#000000' },
                border: { display: true, color: '#000000', width: 1, dash: [3, 3] }
            }
        }
    },
    plugins: [overlay]
});
</script>
</body>
</html>
